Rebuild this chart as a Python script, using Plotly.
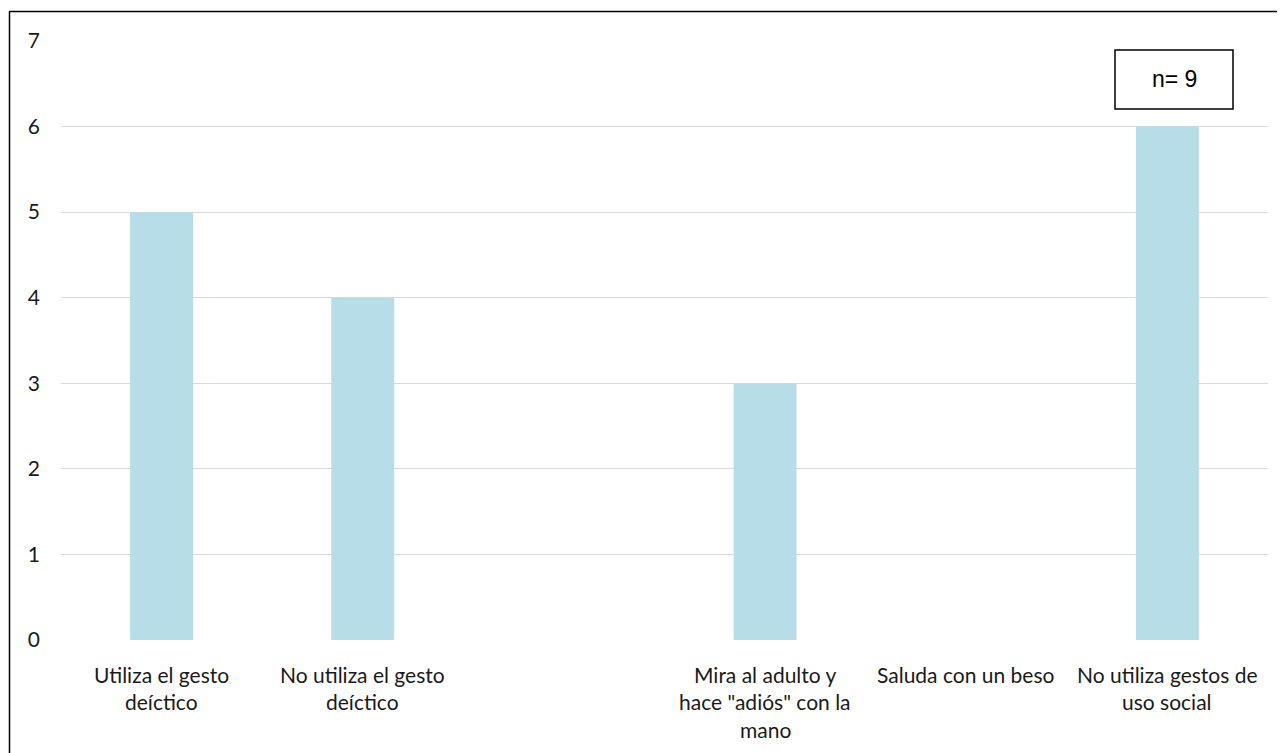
import plotly.graph_objects as go

categories = ["Utiliza el gesto deíctico", "No utiliza el gesto deíctico", " ",
              "Mira al adulto y hace \"adiós\" con la mano", "Saluda con un beso",
              "No utiliza gestos de uso social"]
label_lines = [["Utiliza el gesto", "deíctico"],
               ["No utiliza el gesto", "deíctico"],
               [],
               ["Mira al adulto y", "hace \"adiós\" con la", "mano"],
               ["Saluda con un beso"],
               ["No utiliza gestos de", "uso social"]]
values = [5, 4, 0, 3, 0, 6]
y_ticks = [0, 1, 2, 3, 4, 5, 6, 7]
note_text = "n= 9"

FONT = "Lato"
OFF = 8  # page body margin offset
W, H = 1285 - OFF, 753 - OFF
L, T = 61 - OFF, 41 - OFF
PR, PB = 1268 - OFF, 640 - OFF
R, B = W - PR, H - PB
pw, ph = PR - L, PB - T


def px(x):
    return (x - OFF - L) / pw


def py(y):
    return 1 - (y - OFF - T) / ph


fig = go.Figure()
fig.add_trace(go.Bar(x=categories, y=values, marker=dict(color="#b7dde8", line=dict(width=0)),
                     hoverinfo="x+y"))

annotations = []
for cat, lines in zip(categories, label_lines):
    for i, ln in enumerate(lines):
        annotations.append(dict(x=cat, xref="x", y=0, yref="y", text=ln, showarrow=False,
                                yanchor="middle", xanchor="center", yshift=-34 - 27.5 * i,
                                font=dict(family=FONT, size=21, color="#1a1a1a")))

annotations.append(dict(x=px(1174), xref="paper", y=py(79), yref="paper", text=note_text,
                        showarrow=False, xanchor="center", yanchor="middle",
                        font=dict(family="Liberation Sans", size=23, color="#000000")))

shapes = [
    dict(type="rect", xref="paper", yref="paper", x0=px(1115), x1=px(1233), y0=py(109), y1=py(50),
         line=dict(color="#000000", width=1.5), fillcolor="white", layer="above"),
    dict(type="line", xref="paper", yref="paper", x0=px(9), x1=px(1300), y0=py(11.5), y1=py(11.5),
         line=dict(color="#000000", width=1.5)),
    dict(type="line", xref="paper", yref="paper", x0=px(9.5), x1=px(9.5), y0=py(11.5), y1=py(770),
         line=dict(color="#000000", width=1.5)),
]

fig.update_layout(
    width=W, height=H,
    margin=dict(l=L, r=R, t=T, b=B, autoexpand=False),
    paper_bgcolor="white", plot_bgcolor="white",
    bargap=0.687,
    showlegend=False,
    annotations=annotations,
    shapes=shapes,
    xaxis=dict(showticklabels=False, showgrid=False, zeroline=False, showline=False,
               ticks=""),
    yaxis=dict(range=[0, 7], tickvals=y_ticks, showgrid=True, gridcolor="#d9d9d9", gridwidth=1.3,
               zeroline=False, showline=False, ticks="",
               tickfont=dict(family=FONT, size=21, color="#1a1a1a"),
               ticklabelstandoff=20),
    font=dict(family=FONT),
)
fig.write_html("out.html")
